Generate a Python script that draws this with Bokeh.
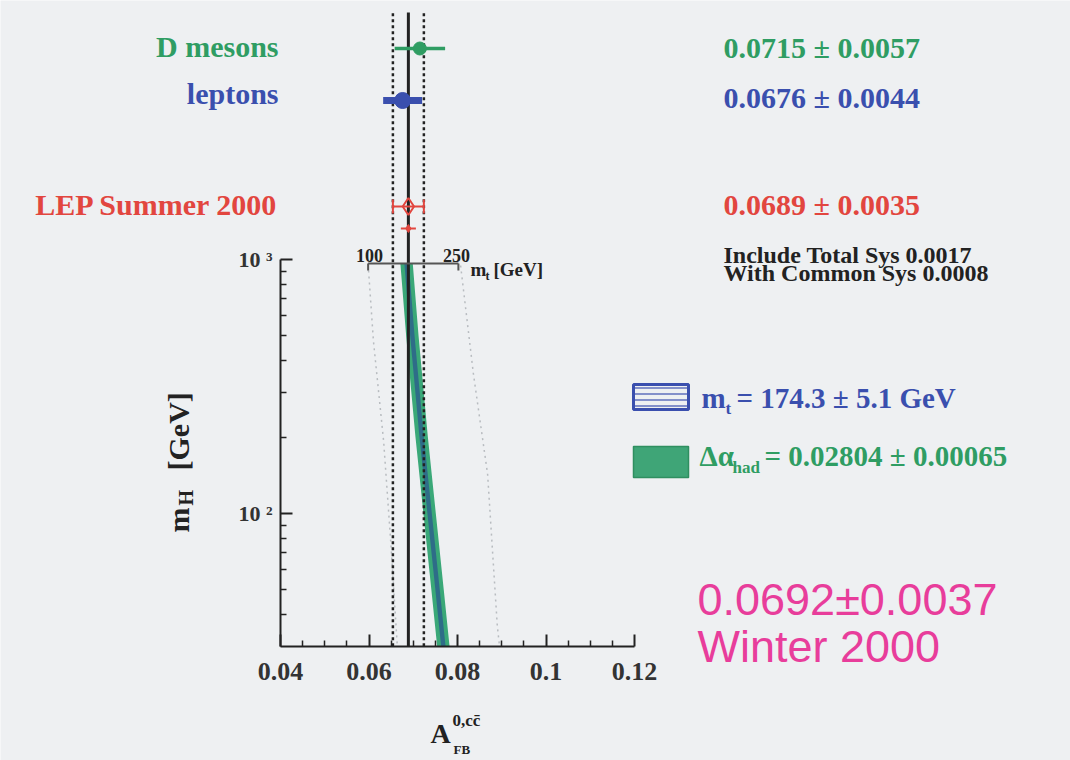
import math
from bokeh.plotting import figure
from bokeh.models import Range1d, FixedTicker, Label
from bokeh.embed import file_html
from bokeh.resources import INLINE

# ---------------- data ----------------
meas_names = ["D mesons", "leptons", "LEP Summer 2000"]
meas_val = [0.0715, 0.0676, 0.0689]
meas_err = [0.0057, 0.0044, 0.0035]
lep_total_sys = 0.0017
lep_common_sys = 0.0008

avg_val = 0.0689
avg_err = 0.0035

winter_val = 0.0692
winter_err = 0.0037

mt_value, mt_err = 174.3, 5.1
dalpha_value, dalpha_err = 0.02804, 0.00065

# SM prediction vs m_H (band)
band_mh = [960, 500, 200, 100, 50, 30]
band_alpha_lo = [0.0671, 0.0684, 0.0705, 0.0723, 0.0741, 0.0754]
band_alpha_hi = [0.0699, 0.0712, 0.0733, 0.0751, 0.0769, 0.0782]
band_mt_lo = [0.0680, 0.0693, 0.0714, 0.0732, 0.0750, 0.0763]
band_mt_hi = [0.0690, 0.0703, 0.0724, 0.0742, 0.0760, 0.0773]

# m_t scale and predictions for m_t = 100 / 250 GeV
mt_scale_vals = ["100", "250"]
mt_scale_afb = [0.0598, 0.0802]
mt100_mh = [905, 478, 193, 78, 30]
mt100_afb = [0.0599, 0.0610, 0.0633, 0.0649, 0.0664]
mt250_mh = [947, 354, 143, 36, 30]
mt250_afb = [0.0807, 0.0836, 0.0868, 0.0890, 0.0895]

x_ticks = [0.04, 0.06, 0.08, 0.1, 0.12]
x_tick_labels = ["0.04", "0.06", "0.08", "0.1", "0.12"]
x_minor = [0.045, 0.05, 0.055, 0.065, 0.07, 0.075, 0.085, 0.09, 0.095,
           0.105, 0.11, 0.115]
y_ticks = [100, 1000]
y_tick_labels = ["10 \u00b2", "10 \u00b3"]
y_minor = [40, 50, 60, 70, 80, 90, 200, 300, 400, 500, 600, 700, 800, 900]
y_low = 30

# ---------------- layout helpers ----------------
W, H = 1070, 760
BG = "#eef0f2"


def dx(px):  # page pixel -> data x (layout of annotations only)
    return 0.04 + (px - 280) * 0.08 / 354


def dy(py):  # page pixel -> data y (log)
    return 10 ** (3 - (py - 259) / 254)


GREEN = "#2f9d63"
BLUE = "#3a4fae"
RED = "#e2463f"
MAGENTA = "#e83d9b"
DARK = "#222222"
colors = [GREEN, BLUE, RED]

p = figure(width=W, height=H, x_range=Range1d(dx(0), dx(W)),
           y_range=Range1d(dy(H), dy(0)),
           y_axis_type="log", output_backend="svg", toolbar_location=None,
           min_border=0, background_fill_color=BG,
           border_fill_color=BG, outline_line_color=None)
p.grid.visible = False

SERIF = "Liberation Serif"

xa = p.xaxis[0]
xa.fixed_location = y_low
xa.bounds = (x_ticks[0], x_ticks[-1])
xa.ticker = FixedTicker(ticks=x_ticks, minor_ticks=x_minor)
xa.major_label_overrides = dict(zip(x_ticks, x_tick_labels))
ya = p.yaxis[0]
ya.fixed_location = x_ticks[0]
ya.bounds = (y_low, 1000)
ya.ticker = FixedTicker(ticks=y_ticks, minor_ticks=y_minor)
ya.major_label_overrides = dict(zip(y_ticks, y_tick_labels))
for ax, size, stand in ((xa, "26px", 17), (ya, "22px", 8)):
    ax.axis_line_width = 2
    ax.axis_line_color = DARK
    ax.major_tick_in = 12
    ax.major_tick_out = 0
    ax.minor_tick_in = 6
    ax.minor_tick_out = 0
    ax.major_tick_line_width = 2
    ax.minor_tick_line_width = 1.5
    ax.major_tick_line_color = DARK
    ax.minor_tick_line_color = DARK
    ax.major_label_text_font = SERIF
    ax.major_label_text_font_style = "bold"
    ax.major_label_text_font_size = size
    ax.major_label_text_color = "#333333"
    ax.major_label_standoff = stand

# m_t = 100 / 250 predictions (light dotted)
p.line(mt100_afb, mt100_mh, line_color="#b8bcc0", line_width=1.5, line_dash="2 4")
p.line(mt250_afb, mt250_mh, line_color="#b8bcc0", line_width=1.5, line_dash="2 4")

# SM band
p.harea(y=band_mh, x1=band_alpha_lo, x2=band_alpha_hi, fill_color="#3aa878")
p.harea(y=band_mh, x1=band_mt_lo, x2=band_mt_hi,
        fill_color="#2b5a8e", fill_alpha=0.75)

# average lines
line_top = dy(12)
p.segment(x0=[avg_val], x1=[avg_val], y0=[y_low], y1=[line_top],
          line_color=DARK, line_width=3)
p.segment(x0=[avg_val - avg_err, avg_val + avg_err],
          x1=[avg_val - avg_err, avg_val + avg_err],
          y0=[y_low] * 2, y1=[line_top] * 2, line_color=DARK,
          line_width=2.5, line_dash="3 3")

# m_t scale ruler
ruler_y = dy(263)
p.segment(x0=[mt_scale_afb[0]], x1=[mt_scale_afb[1]], y0=[ruler_y], y1=[ruler_y],
          line_color="#555555", line_width=2)
p.segment(x0=mt_scale_afb, x1=mt_scale_afb, y0=[ruler_y] * 2, y1=[dy(270)] * 2,
          line_color="#555555", line_width=2)

# measurements
row_y = [dy(48), dy(100), dy(206)]
bar_w = [3.5, 7, 2]
for i in range(3):
    v, e, c, yy = meas_val[i], meas_err[i], colors[i], row_y[i]
    p.segment(x0=[v - e], x1=[v + e], y0=[yy], y1=[yy], line_color=c, line_width=bar_w[i])
p.scatter([meas_val[0]], [row_y[0]], marker="circle", size=13, color=GREEN)
p.scatter([meas_val[1]], [row_y[1]], marker="circle", size=16, color=BLUE)
p.segment(x0=[meas_val[2] - meas_err[2], meas_val[2] + meas_err[2]],
          x1=[meas_val[2] - meas_err[2], meas_val[2] + meas_err[2]],
          y0=[dy(199)] * 2, y1=[dy(213)] * 2, line_color=RED, line_width=2)
p.scatter([meas_val[2]], [row_y[2]], marker="diamond", size=17, fill_color=None,
          line_color=RED, line_width=2)
sys_y = dy(228)
p.segment(x0=[meas_val[2] - lep_total_sys], x1=[meas_val[2] + lep_total_sys],
          y0=[sys_y], y1=[sys_y], line_color=RED, line_width=2)
p.scatter([meas_val[2]], [sys_y], marker="diamond", size=8, color=RED)

# legend boxes
p.quad(left=[dx(633)], right=[dx(688)], top=[dy(384)], bottom=[dy(409)],
       fill_color=BG, line_color=BLUE, line_width=3,
       hatch_pattern="horizontal_line", hatch_color=BLUE, hatch_scale=6,
       hatch_weight=1.2)
p.quad(left=[dx(633)], right=[dx(688)], top=[dy(446)], bottom=[dy(477)],
       fill_color="#3fa577", line_color="#2f8f60", line_width=1.5)

SHIFT = 0.37  # rendered glyph offset of alphabetic labels, in em


def lab(x_px, base_px, text, size, color=DARK, align="left", font=SERIF,
        style="bold", angle=0.0):
    if angle == 0.0:
        base_px = base_px - SHIFT * size
    p.add_layout(Label(x=dx(x_px), y=dy(base_px), text=text, text_font=font,
                       text_font_style=style, text_font_size=f"{size}px",
                       text_color=color, text_align=align,
                       text_baseline="alphabetic", angle=angle))


# measurement names & values
name_base = [57, 104, 215]
val_base = [58, 108, 215]
for i in range(3):
    lab(278, name_base[i], meas_names[i], 30, colors[i], align="right")
    lab(723, val_base[i], f"{meas_val[i]:.4f} \u00b1 {meas_err[i]:.4f}",
        30, colors[i])
lab(723, 263, f"Include Total  Sys {lep_total_sys:.4f}", 24)
lab(723, 281, f"With Common Sys {lep_common_sys:.4f}", 24)

# m_t scale labels (centred on the scale ends)
lab(369, 262, mt_scale_vals[0], 18, align="center")
lab(456, 262, mt_scale_vals[1], 18, align="center")
lab(470, 276, "m", 19)
lab(485, 280, "t", 12)
lab(493, 276, "[GeV]", 19)

# legend texts
lab(701, 408, "m", 29, BLUE)
lab(725, 414, "t", 17, BLUE)
lab(736, 408, f"= {mt_value} \u00b1 {mt_err} GeV", 29, BLUE)
lab(699, 466, "\u0394\u03b1", 29, GREEN)
lab(732, 473, "had", 17, GREEN)
lab(764, 466, f"= {dalpha_value:.5f} \u00b1 {dalpha_err:.5f}", 29, GREEN)

# winter result
lab(697, 616, f"{winter_val:.4f}\u00b1{winter_err:.4f}", 45, MAGENTA,
    font="Liberation Sans", style="normal")
lab(697, 663, "Winter 2000", 45, MAGENTA, font="Liberation Sans",
    style="normal")

# axis titles
lab(178, 532, "m", 30, angle=math.pi / 2)
lab(185, 505, "H", 20, angle=math.pi / 2)
lab(178, 470, "[GeV]", 30, angle=math.pi / 2)
lab(430, 743, "A", 28)
lab(452, 726, "0,cc\u0304", 17)
lab(453, 754, "FB", 13)

html = file_html(p, INLINE)
html = html.replace("<body>", f'<body style="background-color:{BG};">', 1)
open("out.html", "w").write(html)
